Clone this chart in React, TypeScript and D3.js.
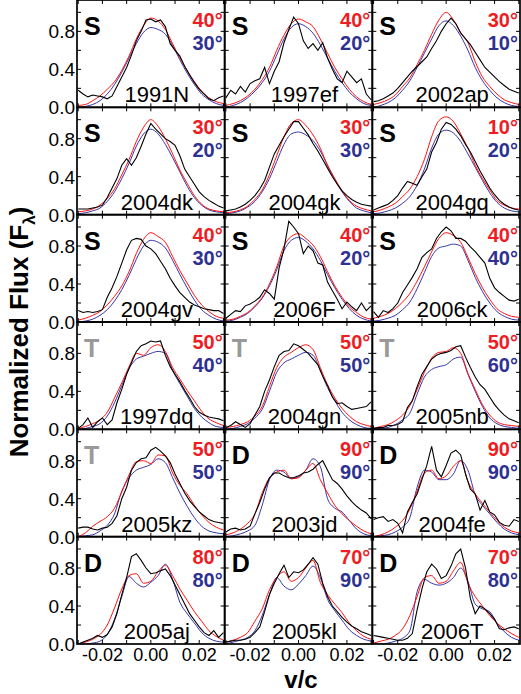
import React from 'react';
import * as d3 from 'd3';

// velocity grids (v/c)
const V_MODEL = [-0.030, -0.027, -0.024, -0.021, -0.018, -0.015, -0.012, -0.009, -0.006, -0.003, 0.000, 0.003, 0.006, 0.009, 0.012, 0.015, 0.018, 0.021, 0.024, 0.027, 0.030];
const V_OBS = [-0.030, -0.028, -0.026, -0.024, -0.022, -0.020, -0.018, -0.016, -0.014, -0.012, -0.010, -0.008, -0.006, -0.004, -0.002, 0.000, 0.002, 0.004, 0.006, 0.008, 0.010, 0.012, 0.014, 0.016, 0.018, 0.020, 0.022, 0.024, 0.026, 0.028, 0.030];

const SN_NAMES = ['1991N', '1997ef', '2002ap', '2004dk', '2004gk', '2004gq', '2004gv', '2006F', '2006ck', '1997dq', '2004gn', '2005nb', '2005kz', '2003jd', '2004fe', '2005aj', '2005kl', '2006T'];
const SN_TYPES = ['S', 'S', 'S', 'S', 'S', 'S', 'S', 'S', 'S', 'T', 'T', 'T', 'T', 'D', 'D', 'D', 'D', 'D'];
const RED_ANGLES = [40, 40, 30, 30, 30, 10, 40, 40, 40, 50, 50, 50, 50, 90, 90, 80, 70, 70];
const BLUE_ANGLES = [30, 20, 10, 20, 30, 20, 30, 20, 40, 40, 50, 60, 50, 90, 90, 80, 90, 80];

const RED_MODEL = [
  [0.02, 0.03, 0.07, 0.12, 0.19, 0.27, 0.39, 0.54, 0.72, 0.86, 0.94, 0.91, 0.82, 0.67, 0.52, 0.39, 0.27, 0.17, 0.10, 0.06, 0.04],
  [0.02, 0.04, 0.07, 0.12, 0.19, 0.29, 0.42, 0.60, 0.76, 0.88, 0.93, 0.90, 0.85, 0.72, 0.57, 0.42, 0.30, 0.19, 0.11, 0.06, 0.03],
  [0.03, 0.05, 0.08, 0.13, 0.22, 0.31, 0.45, 0.60, 0.77, 0.92, 1.00, 0.92, 0.79, 0.68, 0.48, 0.32, 0.22, 0.14, 0.08, 0.05, 0.03],
  [0.03, 0.04, 0.06, 0.10, 0.17, 0.27, 0.42, 0.58, 0.77, 0.92, 1.00, 0.93, 0.80, 0.64, 0.47, 0.33, 0.20, 0.11, 0.06, 0.04, 0.03],
  [0.02, 0.03, 0.05, 0.09, 0.16, 0.26, 0.42, 0.62, 0.82, 0.96, 1.00, 0.94, 0.84, 0.70, 0.52, 0.38, 0.25, 0.15, 0.09, 0.06, 0.04],
  [0.03, 0.05, 0.08, 0.12, 0.19, 0.27, 0.40, 0.58, 0.82, 0.99, 1.03, 0.98, 0.85, 0.70, 0.52, 0.38, 0.26, 0.15, 0.10, 0.07, 0.06],
  [0.02, 0.04, 0.07, 0.11, 0.18, 0.27, 0.38, 0.53, 0.72, 0.87, 0.94, 0.90, 0.84, 0.69, 0.54, 0.41, 0.28, 0.18, 0.11, 0.06, 0.04],
  [0.02, 0.03, 0.06, 0.10, 0.17, 0.26, 0.40, 0.58, 0.80, 0.90, 0.93, 0.88, 0.81, 0.69, 0.53, 0.38, 0.26, 0.16, 0.10, 0.05, 0.03],
  [0.04, 0.06, 0.09, 0.14, 0.21, 0.30, 0.43, 0.58, 0.74, 0.88, 0.94, 0.91, 0.84, 0.68, 0.51, 0.36, 0.24, 0.14, 0.09, 0.06, 0.05],
  [0.01, 0.03, 0.06, 0.10, 0.18, 0.33, 0.49, 0.66, 0.80, 0.78, 0.86, 0.89, 0.82, 0.65, 0.53, 0.41, 0.30, 0.19, 0.11, 0.07, 0.04],
  [0.02, 0.03, 0.05, 0.08, 0.14, 0.24, 0.45, 0.65, 0.76, 0.81, 0.86, 0.89, 0.84, 0.65, 0.47, 0.33, 0.22, 0.14, 0.08, 0.05, 0.03],
  [0.01, 0.03, 0.05, 0.09, 0.15, 0.25, 0.42, 0.60, 0.75, 0.81, 0.82, 0.86, 0.80, 0.59, 0.42, 0.26, 0.15, 0.08, 0.05, 0.04, 0.03],
  [0.00, 0.04, 0.11, 0.16, 0.21, 0.30, 0.47, 0.65, 0.79, 0.80, 0.77, 0.86, 0.85, 0.67, 0.54, 0.45, 0.33, 0.23, 0.15, 0.10, 0.07],
  [0.02, 0.04, 0.08, 0.14, 0.24, 0.46, 0.62, 0.68, 0.70, 0.61, 0.62, 0.70, 0.77, 0.60, 0.46, 0.33, 0.24, 0.17, 0.11, 0.06, 0.03],
  [0.00, 0.02, 0.05, 0.10, 0.17, 0.29, 0.48, 0.67, 0.70, 0.61, 0.64, 0.74, 0.80, 0.58, 0.45, 0.35, 0.26, 0.17, 0.10, 0.06, 0.04],
  [0.00, 0.02, 0.05, 0.10, 0.20, 0.38, 0.58, 0.72, 0.74, 0.64, 0.66, 0.76, 0.83, 0.72, 0.58, 0.46, 0.34, 0.24, 0.14, 0.08, 0.04],
  [0.02, 0.04, 0.07, 0.12, 0.24, 0.37, 0.57, 0.70, 0.76, 0.66, 0.70, 0.80, 0.88, 0.65, 0.52, 0.42, 0.33, 0.22, 0.14, 0.08, 0.05],
  [0.01, 0.03, 0.05, 0.09, 0.16, 0.30, 0.50, 0.70, 0.72, 0.64, 0.66, 0.77, 0.86, 0.64, 0.50, 0.40, 0.30, 0.22, 0.16, 0.11, 0.07],
];

const BLUE_MODEL = [
  [0.00, 0.01, 0.03, 0.07, 0.14, 0.24, 0.37, 0.52, 0.67, 0.79, 0.84, 0.82, 0.77, 0.65, 0.50, 0.36, 0.24, 0.14, 0.08, 0.04, 0.02],
  [0.00, 0.02, 0.05, 0.10, 0.17, 0.26, 0.38, 0.55, 0.72, 0.84, 0.88, 0.85, 0.78, 0.66, 0.52, 0.38, 0.26, 0.16, 0.09, 0.04, 0.02],
  [0.00, 0.02, 0.05, 0.10, 0.18, 0.28, 0.42, 0.57, 0.72, 0.86, 0.91, 0.86, 0.75, 0.60, 0.42, 0.28, 0.18, 0.10, 0.05, 0.02, 0.01],
  [0.01, 0.02, 0.04, 0.07, 0.14, 0.24, 0.38, 0.54, 0.72, 0.85, 0.90, 0.85, 0.74, 0.60, 0.45, 0.30, 0.18, 0.10, 0.05, 0.03, 0.02],
  [0.01, 0.02, 0.04, 0.08, 0.14, 0.24, 0.38, 0.56, 0.74, 0.85, 0.87, 0.84, 0.78, 0.67, 0.52, 0.37, 0.24, 0.14, 0.07, 0.04, 0.02],
  [0.01, 0.02, 0.04, 0.07, 0.12, 0.19, 0.31, 0.48, 0.70, 0.85, 0.89, 0.86, 0.77, 0.64, 0.50, 0.36, 0.23, 0.13, 0.07, 0.04, 0.03],
  [0.00, 0.01, 0.03, 0.07, 0.13, 0.22, 0.34, 0.49, 0.66, 0.80, 0.86, 0.84, 0.78, 0.65, 0.50, 0.36, 0.23, 0.13, 0.07, 0.03, 0.01],
  [0.01, 0.02, 0.05, 0.09, 0.16, 0.25, 0.38, 0.55, 0.75, 0.86, 0.89, 0.85, 0.77, 0.65, 0.50, 0.36, 0.24, 0.14, 0.07, 0.03, 0.01],
  [0.01, 0.02, 0.04, 0.07, 0.13, 0.21, 0.35, 0.52, 0.69, 0.78, 0.80, 0.82, 0.80, 0.65, 0.47, 0.32, 0.20, 0.11, 0.06, 0.03, 0.02],
  [0.00, 0.01, 0.03, 0.06, 0.14, 0.28, 0.46, 0.64, 0.74, 0.77, 0.80, 0.82, 0.80, 0.62, 0.48, 0.35, 0.22, 0.13, 0.07, 0.03, 0.02],
  [0.00, 0.01, 0.03, 0.06, 0.12, 0.21, 0.40, 0.60, 0.70, 0.74, 0.78, 0.81, 0.78, 0.62, 0.44, 0.30, 0.18, 0.10, 0.05, 0.02, 0.01],
  [0.00, 0.01, 0.02, 0.05, 0.10, 0.17, 0.37, 0.55, 0.63, 0.66, 0.68, 0.74, 0.76, 0.58, 0.40, 0.24, 0.12, 0.06, 0.03, 0.02, 0.01],
  [0.00, 0.01, 0.02, 0.06, 0.12, 0.24, 0.48, 0.62, 0.70, 0.73, 0.76, 0.82, 0.78, 0.62, 0.46, 0.32, 0.20, 0.11, 0.06, 0.04, 0.03],
  [0.00, 0.01, 0.03, 0.06, 0.12, 0.33, 0.60, 0.70, 0.68, 0.61, 0.63, 0.70, 0.82, 0.74, 0.40, 0.30, 0.26, 0.17, 0.08, 0.03, 0.01],
  [0.00, 0.01, 0.02, 0.05, 0.10, 0.20, 0.52, 0.70, 0.68, 0.60, 0.60, 0.66, 0.80, 0.70, 0.44, 0.33, 0.24, 0.15, 0.08, 0.04, 0.02],
  [0.00, 0.00, 0.01, 0.03, 0.10, 0.26, 0.50, 0.71, 0.64, 0.60, 0.65, 0.72, 0.84, 0.68, 0.44, 0.32, 0.22, 0.12, 0.06, 0.03, 0.02],
  [0.00, 0.02, 0.04, 0.07, 0.14, 0.30, 0.52, 0.70, 0.61, 0.57, 0.63, 0.72, 0.82, 0.70, 0.47, 0.35, 0.25, 0.15, 0.09, 0.05, 0.03],
  [0.00, 0.00, 0.01, 0.03, 0.06, 0.14, 0.55, 0.68, 0.64, 0.62, 0.64, 0.70, 0.80, 0.66, 0.42, 0.37, 0.34, 0.22, 0.13, 0.07, 0.04],
];

const OBSERVED = [
  [0.18, 0.14, 0.11, 0.13, 0.12, 0.11, 0.09, 0.12, 0.22, 0.32, 0.42, 0.55, 0.70, 0.80, 0.92, 0.93, 0.90, 0.92, 0.85, 0.67, 0.60, 0.54, 0.43, 0.34, 0.26, 0.19, 0.14, 0.09, 0.07, 0.10, 0.12],
  [0.10, 0.18, 0.14, 0.22, 0.16, 0.25, 0.28, 0.30, 0.42, 0.25, 0.38, 0.48, 0.68, 0.82, 0.95, 0.88, 0.70, 0.62, 0.67, 0.60, 0.68, 0.52, 0.40, 0.30, 0.26, 0.38, 0.32, 0.26, 0.30, 0.14, 0.08],
  [0.06, 0.07, 0.09, 0.12, 0.15, 0.20, 0.26, 0.32, 0.38, 0.43, 0.48, 0.53, 0.62, 0.70, 0.80, 0.88, 0.94, 0.88, 0.78, 0.72, 0.66, 0.58, 0.50, 0.42, 0.37, 0.32, 0.27, 0.23, 0.19, 0.17, 0.15],
  [0.06, 0.06, 0.06, 0.07, 0.08, 0.10, 0.18, 0.28, 0.38, 0.52, 0.59, 0.52, 0.60, 0.72, 0.85, 0.96, 0.90, 0.85, 0.80, 0.77, 0.73, 0.62, 0.48, 0.40, 0.32, 0.24, 0.19, 0.15, 0.12, 0.09, 0.07],
  [0.04, 0.05, 0.06, 0.08, 0.11, 0.15, 0.20, 0.27, 0.36, 0.50, 0.64, 0.73, 0.82, 0.90, 0.98, 0.98, 0.91, 0.84, 0.75, 0.67, 0.58, 0.49, 0.40, 0.32, 0.25, 0.20, 0.16, 0.13, 0.11, 0.10, 0.09],
  [0.05, 0.07, 0.09, 0.11, 0.15, 0.20, 0.28, 0.35, 0.33, 0.31, 0.40, 0.48, 0.66, 0.76, 0.90, 0.97, 0.95, 0.90, 0.83, 0.74, 0.66, 0.56, 0.46, 0.37, 0.28, 0.21, 0.15, 0.11, 0.08, 0.06, 0.05],
  [0.12, 0.10, 0.11, 0.10, 0.11, 0.13, 0.26, 0.36, 0.48, 0.62, 0.76, 0.86, 0.88, 0.87, 0.80, 0.77, 0.72, 0.64, 0.56, 0.46, 0.38, 0.31, 0.26, 0.21, 0.18, 0.16, 0.14, 0.13, 0.12, 0.12, 0.09],
  [0.04, 0.08, 0.12, 0.11, 0.17, 0.19, 0.22, 0.26, 0.34, 0.30, 0.24, 0.57, 0.77, 1.06, 1.00, 0.93, 0.72, 0.80, 0.75, 0.62, 0.60, 0.42, 0.33, 0.24, 0.14, 0.21, 0.16, 0.12, 0.20, 0.12, 0.17],
  [0.11, 0.05, 0.12, 0.10, 0.14, 0.20, 0.31, 0.39, 0.47, 0.56, 0.68, 0.73, 0.77, 0.88, 0.95, 1.00, 0.96, 0.88, 0.88, 0.85, 0.79, 0.74, 0.68, 0.62, 0.46, 0.36, 0.31, 0.27, 0.23, 0.22, 0.24],
  [0.01, 0.05, 0.12, 0.02, 0.08, 0.12, 0.05, 0.10, 0.28, 0.42, 0.58, 0.70, 0.82, 0.88, 0.90, 0.93, 0.92, 0.93, 0.78, 0.66, 0.58, 0.50, 0.41, 0.33, 0.24, 0.18, 0.15, 0.13, 0.12, 0.11, 0.09],
  [0.02, 0.04, 0.08, 0.05, 0.02, 0.06, 0.15, 0.24, 0.40, 0.52, 0.66, 0.78, 0.82, 0.83, 0.90, 0.88, 0.84, 0.80, 0.74, 0.68, 0.56, 0.46, 0.34, 0.27, 0.28, 0.24, 0.21, 0.22, 0.23, 0.24, 0.29],
  [0.01, 0.02, 0.02, 0.04, 0.04, 0.05, 0.08, 0.23, 0.30, 0.45, 0.58, 0.66, 0.74, 0.78, 0.80, 0.81, 0.83, 0.87, 0.88, 0.76, 0.65, 0.55, 0.47, 0.42, 0.34, 0.26, 0.20, 0.15, 0.11, 0.09, 0.07],
  [0.09, 0.10, 0.10, 0.08, 0.07, 0.09, 0.10, 0.14, 0.22, 0.40, 0.52, 0.70, 0.78, 0.82, 0.83, 0.91, 0.94, 0.90, 0.85, 0.78, 0.66, 0.56, 0.46, 0.38, 0.32, 0.26, 0.22, 0.18, 0.16, 0.15, 0.14],
  [0.05, 0.08, 0.09, 0.07, 0.08, 0.11, 0.24, 0.36, 0.50, 0.62, 0.67, 0.67, 0.64, 0.62, 0.62, 0.64, 0.67, 0.68, 0.71, 0.76, 0.80, 0.70, 0.60, 0.56, 0.50, 0.43, 0.37, 0.32, 0.28, 0.25, 0.19],
  [0.18, 0.20, 0.21, 0.16, 0.18, 0.14, 0.04, 0.26, 0.36, 0.45, 0.60, 0.75, 0.95, 0.70, 0.63, 0.75, 0.88, 0.91, 0.86, 0.66, 0.50, 0.45, 0.28, 0.38, 0.26, 0.23, 0.15, 0.12, 0.11, 0.18, 0.16],
  [0.00, 0.02, 0.04, 0.06, 0.09, 0.07, 0.10, 0.18, 0.32, 0.52, 0.70, 0.92, 0.95, 0.88, 0.80, 0.74, 0.75, 0.77, 0.79, 0.72, 0.62, 0.52, 0.42, 0.32, 0.25, 0.18, 0.12, 0.09, 0.14, 0.07, 0.12],
  [0.02, 0.03, 0.04, 0.04, 0.05, 0.07, 0.12, 0.18, 0.34, 0.52, 0.64, 0.74, 0.83, 0.70, 0.76, 0.75, 0.78, 0.84, 0.91, 0.84, 0.64, 0.50, 0.40, 0.34, 0.28, 0.23, 0.19, 0.16, 0.13, 0.11, 0.09],
  [0.09, 0.08, 0.07, 0.06, 0.05, 0.04, 0.04, 0.06, 0.11, 0.36, 0.58, 0.76, 0.84, 0.79, 0.69, 0.72, 0.82, 0.95, 1.00, 0.80, 0.48, 0.32, 0.40, 0.37, 0.32, 0.26, 0.16, 0.15, 0.17, 0.18, 0.16],
];

const X_TICKS = [-0.03, -0.02, -0.01, 0, 0.01, 0.02, 0.03];
const X_TICK_LABELS = [-0.02, 0, 0.02];
const Y_TICKS = [0.2, 0.4, 0.6, 0.8, 1.0];
const Y_TICK_LABELS = [0, 0.4, 0.8];

const FONT = "'Liberation Sans', Arial, Helvetica, sans-serif";
const RED = '#ee1d24';
const BLUE = '#2e3192';
const RED_LINE = '#ff1010';
const BLUE_LINE = '#3535a8';
const GRAY = '#999999';

const LEFT = 77;
const RIGHT = 520;
const TOP = 0;
const BOTTOM = 644;
const NCOL = 3;
const NROW = 6;

export default function App() {
  const pw = (RIGHT - LEFT) / NCOL;
  const ph = (BOTTOM - TOP) / NROW;
  const x = d3.scaleLinear().domain([-0.0305, 0.0305]).range([0, pw]);
  const y = d3.scaleLinear().domain([0, 1.13]).range([ph, 0]);
  const modelLine = d3
    .line<number>()
    .x((_, i) => x(V_MODEL[i]))
    .y((d) => y(d))
    .curve(d3.curveMonotoneX);
  const obsLine = d3
    .line<number>()
    .x((_, i) => x(V_OBS[i]))
    .y((d) => y(d));

  const panels = SN_NAMES.map((name, k) => {
    const col = k % NCOL;
    const row = Math.floor(k / NCOL);
    const px = LEFT + col * pw;
    const py = TOP + row * ph;
    return (
      <g key={name} transform={`translate(${px},${py})`}>
        <clipPath id={`clip${k}`}>
          <rect x={0} y={0} width={pw} height={ph} />
        </clipPath>
        <g clipPath={`url(#clip${k})`}>
          <path d={modelLine(BLUE_MODEL[k]) || ''} fill="none" stroke={BLUE_LINE} strokeWidth={1} />
          <path d={modelLine(RED_MODEL[k]) || ''} fill="none" stroke={RED_LINE} strokeWidth={1} />
          <path d={obsLine(OBSERVED[k]) || ''} fill="none" stroke="#000" strokeWidth={1.1} />
        </g>
        {X_TICKS.map((t) => (
          <g key={`xt${t}`}>
            <line x1={x(t)} x2={x(t)} y1={ph} y2={ph - 4} stroke="#000" strokeWidth={1} />
            <line x1={x(t)} x2={x(t)} y1={0} y2={4} stroke="#000" strokeWidth={1} />
          </g>
        ))}
        {Y_TICKS.map((t) => (
          <g key={`yt${t}`}>
            <line x1={0} x2={4} y1={y(t)} y2={y(t)} stroke="#000" strokeWidth={1} />
            <line x1={pw} x2={pw - 4} y1={y(t)} y2={y(t)} stroke="#000" strokeWidth={1} />
          </g>
        ))}
        <rect x={0} y={0} width={pw} height={ph} fill="none" stroke="#000" strokeWidth={1.7} />
        <text
          x={7}
          y={35}
          fontFamily={FONT}
          fontWeight="bold"
          fontSize={25}
          fill={SN_TYPES[k] === 'T' ? GRAY : '#000'}
        >
          {SN_TYPES[k]}
        </text>
        <text x={pw - 2} y={27} textAnchor="end" fontFamily={FONT} fontWeight="bold" fontSize={20} fill={RED}>
          {`${RED_ANGLES[k]}°`}
        </text>
        <text x={pw - 2} y={50} textAnchor="end" fontFamily={FONT} fontWeight="bold" fontSize={20} fill={BLUE}>
          {`${BLUE_ANGLES[k]}°`}
        </text>
        <text x={pw / 2 + 6} y={ph - 5} textAnchor="middle" fontFamily={FONT} fontSize={22} fill="#000">
          {name}
        </text>
        {col === 0 &&
          Y_TICK_LABELS.map((t) => (
            <text
              key={`yl${t}`}
              x={-2}
              y={y(t)}
              dy="0.36em"
              textAnchor="end"
              fontFamily={FONT}
              fontSize={19}
              fill="#000"
            >
              {d3.format('.1f')(t)}
            </text>
          ))}
        {row === NROW - 1 &&
          X_TICK_LABELS.map((t) => (
            <text
              key={`xl${t}`}
              x={x(t)}
              y={ph + 17}
              textAnchor="middle"
              fontFamily={FONT}
              fontSize={18}
              fill="#000"
            >
              {t === 0 ? '0.00' : d3.format('.2f')(t).replace('−', '-')}
            </text>
          ))}
      </g>
    );
  });

  return (
    <svg
      width={521}
      height={694}
      style={{ position: 'absolute', left: 0, top: 0, background: '#fff' }}
    >
      <rect x={0} y={0} width={521} height={694} fill="#fff" />
      {panels}
      <text
        transform={`translate(28,${332}) rotate(-90)`}
        textAnchor="middle"
        fontFamily={FONT}
        fontWeight="bold"
        fontSize={26}
        fill="#000"
      >
        Normalized Flux (F<tspan fontSize={17} dy={7}>λ</tspan>
        <tspan dy={-7}>)</tspan>
      </text>
      <text x={301} y={688} textAnchor="middle" fontFamily={FONT} fontWeight="bold" fontSize={24} fill="#000">
        v/c
      </text>
    </svg>
  );
}
